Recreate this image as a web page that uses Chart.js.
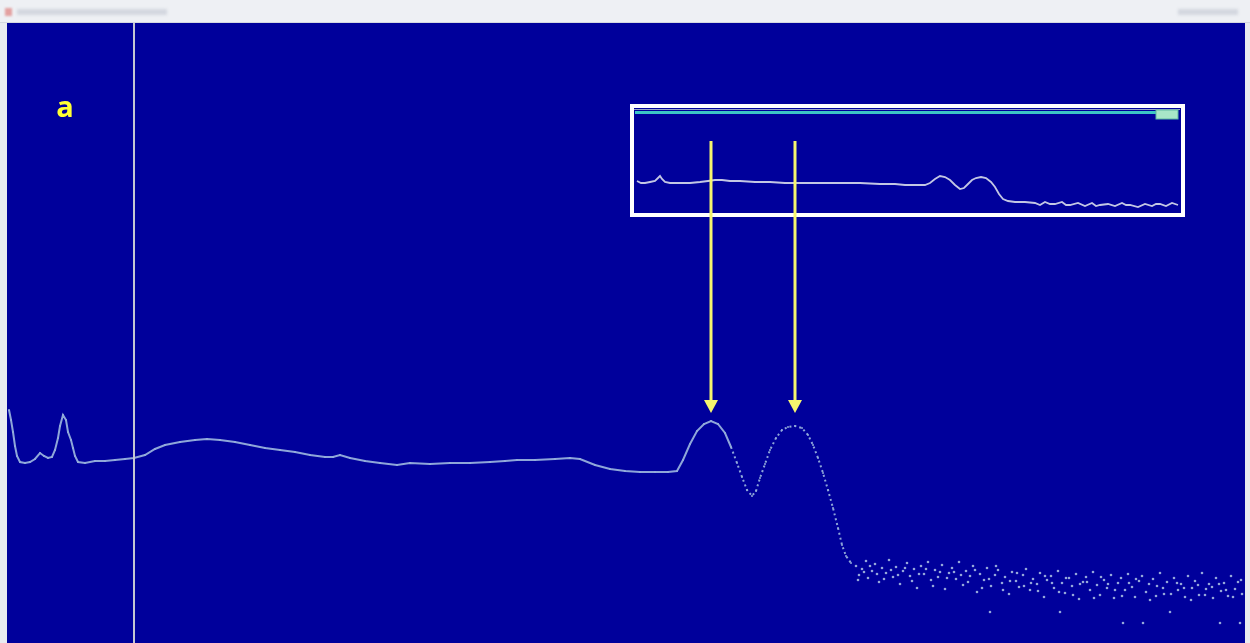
<!DOCTYPE html>
<html>
<head>
<meta charset="utf-8">
<script src="https://cdn.jsdelivr.net/npm/chart.js@4/dist/chart.umd.min.js"></script>
<style>
    html, body { margin: 0; padding: 0; }
    body { width: 1250px; height: 643px; background: #e9ebf0; position: relative; overflow: hidden; }
    #titlebar { position: absolute; left: 0; top: 0; width: 1250px; height: 22px; background: #eef0f4; border-bottom: 1px solid #d4d8e0; }
    #titlebar .icon { position: absolute; left: 5px; top: 8px; width: 7px; height: 8px; background: #e3a0a0; filter: blur(1px); }
    #titlebar .cap { position: absolute; top: 9px; height: 6px; background: #d3d7df; filter: blur(1.5px); }
    #plot { position: absolute; left: 7px; top: 23px; width: 1238px; height: 620px; background: #00009b; }
    #plot canvas { position: absolute; left: 0; top: 0; }
</style>
</head>
<body>
<div id="titlebar">
    <div class="icon"></div>
    <div class="cap" style="left:17px;width:150px"></div>
    <div class="cap" style="left:1178px;width:60px"></div>
</div>
<div id="plot">
    <canvas id="mainChart" width="1238" height="620"></canvas>
    <canvas id="insetChart" width="1238" height="620"></canvas>
</div>
<script>
// main spectrum (channel, counts)
const traceX = [9, 11, 13, 15, 17, 20, 25, 30, 35, 40, 44, 48, 52, 55, 58, 60, 63, 66, 68, 71, 73, 75, 78, 85, 95, 105, 115, 125, 134, 145, 155, 165, 180, 195, 207, 220, 235, 250, 265, 280, 295, 310, 325, 333, 340, 350, 365, 380, 397, 410, 430, 450, 470, 490, 505, 517, 535, 555, 570, 580, 595, 610, 625, 640, 655, 668, 677, 683, 690, 697, 704, 711, 718, 725, 731, 737, 742, 747, 752, 756, 760, 765, 770, 776, 782, 788, 795, 802, 808, 813, 818, 823, 828, 833, 838, 842, 846, 851];
const traceY = [233, 223, 211, 197, 187, 181, 180, 181, 184, 190, 187, 185, 186, 193, 205, 217, 228, 223, 211, 203, 195, 187, 181, 180, 182, 182, 183, 184, 185, 188, 194, 198, 201, 203, 204, 203, 201, 198, 195, 193, 191, 188, 186, 186, 188, 185, 182, 180, 178, 180, 179, 180, 180, 181, 182, 183, 183, 184, 185, 184, 178, 174, 172, 171, 171, 171, 172, 183, 199, 212, 219, 222, 219, 210, 196, 180, 166, 153, 147, 152, 165, 179, 193, 205, 213, 216, 217, 215, 208, 198, 185, 170, 153, 135, 115, 98, 87, 80];

// scattered high-channel tail
const tailX = [856, 859, 862, 866, 868, 872, 875, 879, 882, 886, 889, 893, 896, 900, 903, 907, 910, 914, 917, 921, 924, 928, 931, 935, 938, 942, 945, 949, 952, 956, 959, 963, 966, 970, 973, 977, 980, 984, 987, 990, 991, 995, 998, 1002, 1005, 1009, 1012, 1016, 1019, 1023, 1026, 1030, 1033, 1037, 1040, 1044, 1047, 1051, 1054, 1058, 1060, 1062, 1065, 1069, 1072, 1076, 1079, 1083, 1086, 1090, 1093, 1097, 1100, 1104, 1107, 1111, 1114, 1118, 1121, 1123, 1125, 1128, 1132, 1135, 1139, 1142, 1143, 1146, 1149, 1153, 1156, 1160, 1163, 1167, 1170, 1171, 1174, 1178, 1181, 1185, 1188, 1192, 1195, 1199, 1202, 1206, 1209, 1213, 1216, 1220, 1221, 1224, 1228, 1231, 1235, 1238, 1240, 1242,
    858, 864, 870, 877, 884, 891, 898, 905, 912, 919, 926, 933, 940, 947, 954, 961, 968, 975, 982, 989, 996, 1003, 1010, 1017, 1024, 1031, 1038, 1045, 1052, 1059, 1066, 1073, 1080, 1087, 1094, 1101, 1108, 1115, 1122, 1129, 1136, 1150, 1157, 1164, 1177, 1184, 1191, 1198, 1205, 1212, 1219, 1226, 1233, 1241];
const tailY = [77, 68, 74, 82, 65, 72, 79, 61, 75, 70, 83, 66, 76, 59, 72, 80, 67, 74, 55, 77, 69, 81, 63, 73, 66, 78, 54, 70, 75, 64, 81, 58, 72, 67, 77, 51, 69, 63, 75, 31, 57, 68, 73, 60, 66, 49, 71, 62, 56, 68, 74, 53, 64, 59, 70, 46, 63, 67, 55, 72, 31, 60, 50, 65, 57, 69, 44, 61, 66, 53, 71, 58, 48, 63, 55, 68, 45, 60, 65, 20, 53, 69, 56, 46, 62, 67, 20, 51, 59, 64, 47, 70, 55, 61, 31, 49, 65, 53, 59, 46, 67, 55, 62, 48, 70, 54, 59, 45, 65, 20, 52, 60, 47, 67, 54, 61, 20, 49,
    63, 71, 77, 69, 64, 73, 68, 75, 62, 69, 74, 57, 71, 65, 71, 68, 61, 73, 55, 64, 77, 53, 62, 70, 57, 60, 52, 67, 60, 51, 65, 48, 59, 61, 45, 66, 59, 53, 47, 60, 64, 43, 57, 49, 60, 55, 43, 58, 48, 56, 59, 53, 46, 63];

// overview spectrum shown in the inset window
const insetX = [637, 641, 645, 650, 655, 658, 660, 662, 665, 670, 680, 690, 700, 708, 715, 722, 730, 740, 755, 770, 785, 800, 820, 840, 860, 880, 895, 905, 915, 925, 930, 935, 940, 945, 950, 955, 960, 964, 968, 972, 976, 981, 986, 991, 995, 999, 1003, 1008, 1015, 1025, 1035, 1040, 1045, 1050, 1055, 1062, 1066, 1070, 1078, 1085, 1092, 1096, 1100, 1108, 1115, 1122, 1126, 1130, 1138, 1145, 1152, 1156, 1160, 1166, 1172, 1178];
const insetY = [31, 29, 29, 30, 31, 34, 36, 33, 30, 29, 29, 29, 30, 31, 32, 32, 31, 31, 30, 30, 29, 29, 29, 29, 29, 28, 28, 27, 27, 27, 29, 33, 36, 35, 32, 27, 23, 24, 28, 32, 34, 35, 34, 30, 25, 18, 13, 11, 10, 10, 9, 7, 10, 8, 8, 10, 7, 7, 9, 6, 9, 6, 7, 8, 6, 9, 7, 7, 5, 8, 6, 8, 8, 6, 9, 7];

// markers
const cursorChannel = 134;
const peakChannels = [711, 795];
const arrowStartLevel = 71;   // inset units
const arrowTipLevel = 230;    // main counts
const panelLabel = 'a';

const toPoints = (xs, ys) => xs.map((x, i) => ({ x: x, y: ys[i] }));

const cursorPlugin = {
    id: 'cursor',
    afterDraw(chart) {
        const ctx = chart.ctx;
        const x = chart.scales.x.getPixelForValue(cursorChannel);
        ctx.save();
        ctx.strokeStyle = '#c4c6d2';
        ctx.lineWidth = 2;
        ctx.beginPath();
        ctx.moveTo(x, 0);
        ctx.lineTo(x, chart.height);
        ctx.stroke();

        ctx.fillStyle = '#ffff33';
        ctx.font = 'bold 29px "Open Sans", sans-serif';
        ctx.textAlign = 'center';
        ctx.textBaseline = 'alphabetic';
        ctx.fillText(panelLabel, 58, 94);
        ctx.restore();
    }
};

const mainChart = new Chart(document.getElementById('mainChart').getContext('2d'), {
    type: 'scatter',
    data: {
        datasets: [{
            label: 'spectrum',
            data: toPoints(traceX, traceY),
            showLine: true,
            borderColor: 'rgba(150, 175, 220, 0.95)',
            backgroundColor: 'rgba(150, 175, 220, 0.95)',
            borderWidth: 2,
            pointRadius: 1,
            pointBorderWidth: 0,
            segment: {
                borderDash: ctx => ctx.p0.parsed.x > 730 ? [2, 3] : undefined
            }
        }, {
            label: 'tail',
            data: toPoints(tailX, tailY),
            showLine: false,
            backgroundColor: 'rgba(165, 185, 225, 0.9)',
            borderWidth: 0,
            pointRadius: 1.3
        }]
    },
    options: {
        responsive: false,
        animation: false,
        layout: { padding: 0, autoPadding: false },
        plugins: { legend: { display: false }, tooltip: { enabled: false } },
        scales: {
            x: { type: 'linear', min: 7, max: 1245, display: false },
            y: { type: 'linear', min: 0, max: 620, display: false }
        }
    },
    plugins: [cursorPlugin]
});

const insetFrame = {
    id: 'insetFrame',
    beforeDatasetsDraw(chart) {
        const a = chart.chartArea;
        const ctx = chart.ctx;
        ctx.save();
        ctx.strokeStyle = '#ffffff';
        ctx.lineWidth = 4;
        ctx.strokeRect(a.left - 4, a.top - 12, a.right - a.left + 7, a.bottom - a.top + 15);
        // overview scroll bar
        ctx.strokeStyle = '#9aa6c8';
        ctx.lineWidth = 1;
        ctx.beginPath();
        ctx.moveTo(a.left - 2, a.top - 8.5);
        ctx.lineTo(a.right, a.top - 8.5);
        ctx.stroke();
        ctx.strokeStyle = '#3cc6c6';
        ctx.lineWidth = 3;
        ctx.beginPath();
        ctx.moveTo(a.left - 1, a.top - 5.5);
        ctx.lineTo(a.right - 2, a.top - 5.5);
        ctx.stroke();
        ctx.fillStyle = '#a8e6c8';
        ctx.strokeStyle = '#5fb8a0';
        ctx.lineWidth = 1;
        ctx.fillRect(a.right - 24, a.top - 8, 22, 9);
        ctx.strokeRect(a.right - 24, a.top - 8, 22, 9);
        ctx.restore();
    },
    afterDraw(chart) {
        const ctx = chart.ctx;
        const top = chart.scales.y.getPixelForValue(arrowStartLevel);
        const tip = mainChart.scales.y.getPixelForValue(arrowTipLevel);
        ctx.save();
        ctx.strokeStyle = '#f6f66e';
        ctx.fillStyle = '#f6f66e';
        ctx.lineWidth = 3;
        peakChannels.forEach(ch => {
            const x = mainChart.scales.x.getPixelForValue(ch);
            ctx.beginPath();
            ctx.moveTo(x, top);
            ctx.lineTo(x, tip - 10);
            ctx.stroke();
            ctx.beginPath();
            ctx.moveTo(x - 7, tip - 13);
            ctx.lineTo(x + 7, tip - 13);
            ctx.lineTo(x, tip);
            ctx.closePath();
            ctx.fill();
        });
        ctx.restore();
    }
};

new Chart(document.getElementById('insetChart').getContext('2d'), {
    type: 'scatter',
    data: {
        datasets: [{
            label: 'overview',
            data: toPoints(insetX, insetY),
            showLine: true,
            borderColor: 'rgba(205, 210, 232, 0.95)',
            borderWidth: 1.8,
            pointRadius: 0
        }]
    },
    options: {
        responsive: false,
        animation: false,
        layout: { padding: { left: 629, right: 65, top: 95, bottom: 431 }, autoPadding: false },
        plugins: { legend: { display: false }, tooltip: { enabled: false } },
        scales: {
            x: { type: 'linear', min: 636, max: 1180, display: false },
            y: { type: 'linear', min: 0, max: 94, display: false }
        }
    },
    plugins: [insetFrame]
});
</script>
</body>
</html>
